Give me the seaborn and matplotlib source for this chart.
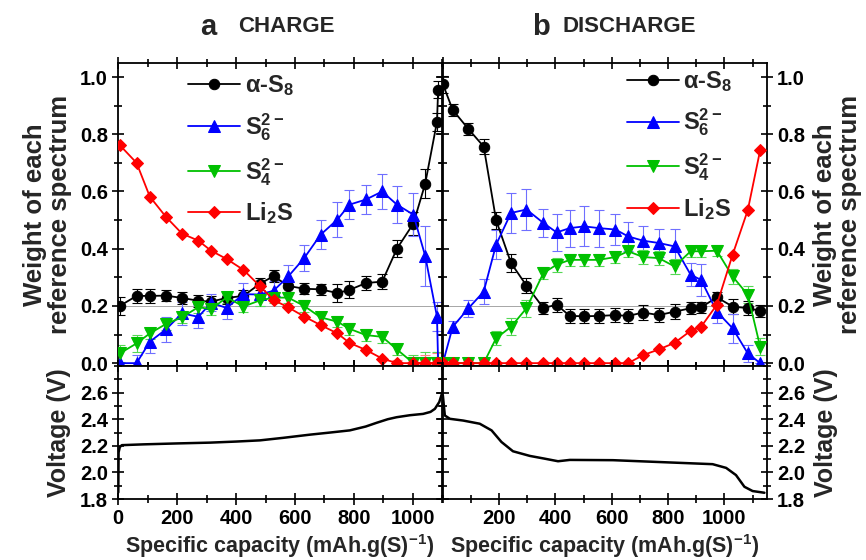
import matplotlib
matplotlib.use("Agg")
import matplotlib.pyplot as plt
import seaborn as sns
from matplotlib.ticker import MultipleLocator, FixedLocator

# ---- dados: carga ----
cap_carga = [5, 62, 107, 162, 216, 272, 315, 368, 425, 480, 527, 577, 631,
             687, 744, 785, 841, 896, 946, 1002, 1042, 1082, 1086]
s8_carga = [0.20, 0.235, 0.235, 0.236, 0.228, 0.218, 0.215, 0.228, 0.235, 0.277,
            0.304, 0.27, 0.26, 0.258, 0.245, 0.256, 0.28, 0.285, 0.40, 0.488,
            0.627, 0.843, 0.955]
s6_carga = [0.0, 0.0, 0.075, 0.118, 0.174, 0.162, 0.211, 0.193, 0.241, 0.24,
            0.253, 0.303, 0.367, 0.449, 0.502, 0.554, 0.572, 0.60, 0.554, 0.519,
            0.375, 0.163, 0.0]
s4_carga = [0.034, 0.069, 0.104, 0.137, 0.16, 0.196, 0.188, 0.23, 0.198, 0.219,
            0.229, 0.229, 0.2, 0.16, 0.145, 0.12, 0.098, 0.092, 0.048, 0.0,
            0.0, 0.0, 0.0]
li2s_carga = [0.762, 0.70, 0.582, 0.511, 0.453, 0.428, 0.393, 0.364, 0.326, 0.27,
              0.221, 0.195, 0.163, 0.133, 0.104, 0.071, 0.046, 0.016, 0.0, 0.0,
              0.0, 0.0, 0.0]
err_s8_carga = [0.03, 0.025, 0.025, 0.02, 0.02, 0.02, 0.02, 0.02, 0.02, 0.02,
                0.02, 0.02, 0.02, 0.02, 0.03, 0.03, 0.025, 0.025, 0.03, 0.04,
                0.05, 0.03, 0.03]
err_s6_carga = [0.05, 0.03, 0.04, 0.045, 0.04, 0.04, 0.03, 0.04, 0.04, 0.04,
                0.035, 0.04, 0.045, 0.05, 0.06, 0.05, 0.05, 0.06, 0.065, 0.075,
                0.105, 0.05, 0.0]
err_s4_carga = [0.03, 0.03, 0.02, 0.02, 0.02, 0.02, 0.02, 0.02, 0.02, 0.02,
                0.02, 0.02, 0.02, 0.02, 0.02, 0.02, 0.02, 0.02, 0.02, 0.03,
                0.04, 0.04, 0.04]
err_li2s_carga = [0.0] * 18 + [0.01, 0.02, 0.03, 0.035, 0.0]

# ---- dados: descarga ----
cap_desc = [0, 35, 91, 145, 189, 242, 297, 357, 404, 451, 502, 554, 613, 658,
            711, 767, 823, 880, 917, 973, 1029, 1083, 1127]
s8_desc = [0.975, 0.885, 0.818, 0.757, 0.50, 0.35, 0.271, 0.193, 0.204, 0.165,
           0.164, 0.165, 0.168, 0.165, 0.177, 0.168, 0.18, 0.192, 0.195, 0.23,
           0.198, 0.192, 0.183]
s6_desc = [0.0, 0.127, 0.192, 0.25, 0.414, 0.525, 0.537, 0.49, 0.457, 0.472,
           0.478, 0.472, 0.467, 0.443, 0.428, 0.42, 0.408, 0.309, 0.291, 0.18,
           0.122, 0.034, 0.0]
s4_desc = [0.0, 0.0, 0.0, 0.0, 0.087, 0.127, 0.192, 0.315, 0.344, 0.361, 0.361,
           0.361, 0.371, 0.391, 0.371, 0.367, 0.338, 0.391, 0.391, 0.393, 0.303,
           0.239, 0.057]
li2s_desc = [0.0] * 14 + [0.028, 0.048, 0.071, 0.113, 0.127, 0.204, 0.379,
                          0.535, 0.745]
err_s8_desc = [0.03, 0.02, 0.02, 0.025, 0.03, 0.03, 0.025, 0.02, 0.025, 0.025,
               0.025, 0.025, 0.025, 0.025, 0.025, 0.025, 0.025, 0.02, 0.02,
               0.02, 0.025, 0.025, 0.02]
err_s6_desc = [0.0, 0.02, 0.03, 0.045, 0.05, 0.07, 0.07, 0.05, 0.065, 0.065,
               0.07, 0.065, 0.055, 0.05, 0.05, 0.05, 0.06, 0.04, 0.055, 0.04,
               0.05, 0.03, 0.0]
err_s4_desc = [0.01, 0.01, 0.01, 0.01, 0.025, 0.03, 0.03, 0.02, 0.025, 0.02,
               0.02, 0.02, 0.02, 0.02, 0.025, 0.025, 0.025, 0.02, 0.02, 0.02,
               0.025, 0.03, 0.03]
err_li2s_desc = [0.0] * 23

# ---- curvas de tensão ----
cap_v_carga = [0, 1, 5, 12, 86, 200, 312, 400, 481, 560, 651, 720, 786, 840,
               877, 915, 945, 990, 1035, 1060, 1075, 1090, 1100]
v_carga = [1.85, 2.15, 2.19, 2.205, 2.211, 2.218, 2.224, 2.232, 2.241, 2.26,
           2.284, 2.30, 2.316, 2.345, 2.373, 2.40, 2.415, 2.43, 2.44, 2.455,
           2.478, 2.53, 2.6]
cap_v_desc = [0, 7, 25, 72, 131, 173, 208, 249, 309, 360, 409, 451, 604, 781,
              958, 1006, 1041, 1071, 1100, 1142]
v_desc = [2.578, 2.428, 2.403, 2.39, 2.366, 2.316, 2.229, 2.159, 2.124, 2.104,
          2.084, 2.094, 2.092, 2.077, 2.062, 2.034, 1.98, 1.892, 1.86, 1.847]

rotulos = [r"$\alpha$-S$_8$", r"S$_6^{2-}$", r"S$_4^{2-}$", r"Li$_2$S"]
cores = ["black", "#0000ff", "#00c000", "#ff0000"]
cores_erro = ["black", "#6f6fff", "#55d855", "#ff8080"]
marcadores = ["o", "^", "v", "D"]
tam_marc = [7.5, 8.5, 8.5, 6.5]

sns.set_theme(style="ticks")
plt.rcParams["font.family"] = ["Liberation Sans", "DejaVu Sans"]
plt.rcParams["font.weight"] = "bold"
plt.rcParams["mathtext.fontset"] = "custom"
plt.rcParams["mathtext.rm"] = "Liberation Sans:bold"
plt.rcParams["mathtext.bf"] = "Liberation Sans:bold"
plt.rcParams["mathtext.it"] = "Liberation Sans:bold"
plt.rcParams["mathtext.default"] = "rm"

fig = plt.figure(figsize=(8.66, 5.6), dpi=100)
ax_ct = fig.add_axes([0.1366, 0.3464, 0.3741, 0.5416])
ax_cv = fig.add_axes([0.1366, 0.1089, 0.3741, 0.2375])
ax_dt = fig.add_axes([0.5114, 0.3464, 0.3739, 0.5416])
ax_dv = fig.add_axes([0.5114, 0.1089, 0.3739, 0.2375])


def estilo(ax):
    for s in ax.spines.values():
        s.set_linewidth(1.3)
        s.set_color("black")
    ax.tick_params(which="both", direction="inout", top=True, bottom=True,
                   left=True, right=True, width=1.2, colors="black",
                   labelsize=14.5)
    ax.tick_params(which="major", length=8)
    ax.tick_params(which="minor", length=6)
    for t in ax.get_xticklabels() + ax.get_yticklabels():
        t.set_fontweight("bold")


def painel(ax, cap, series, erros, xmax, legenda_pos):
    ax.axhline(0.2, color="0.65", lw=0.7, zorder=0)
    for y, e, lab, c, ce, m, ms in zip(series, erros, rotulos, cores,
                                       cores_erro, marcadores, tam_marc):
        ax.errorbar(cap, y, yerr=e, fmt="none", ecolor=ce, elinewidth=0.8,
                    capsize=3.5, capthick=0.8, zorder=2)
        sns.lineplot(x=cap, y=y, ax=ax, color=c, marker=m, markersize=ms,
                     markeredgecolor=c, linewidth=1.3, sort=False,
                     label=lab, zorder=3)
    ax.set_xlim(0, xmax)
    ax.set_ylim(-0.01, 1.05)
    ax.xaxis.set_major_locator(MultipleLocator(200))
    ax.xaxis.set_minor_locator(MultipleLocator(100))
    ax.yaxis.set_major_locator(FixedLocator([0, 0.2, 0.4, 0.6, 0.8, 1.0]))
    ax.yaxis.set_minor_locator(MultipleLocator(0.1))
    ax.set_yticklabels(["0.0", "0.2", "0.4", "0.6", "0.8", "1.0"])
    ax.tick_params(labelbottom=False)
    ax.set_xlabel("")
    leg = ax.legend(loc="upper left", bbox_to_anchor=legenda_pos, frameon=False,
                    fontsize=17, handlelength=2.2, handletextpad=0.2,
                    labelspacing=0.55, borderpad=0, borderaxespad=0)
    for t in leg.get_texts():
        t.set_fontweight("bold")


def tensao(ax, cap, v, xmax, ticks):
    sns.lineplot(x=cap, y=v, ax=ax, color="black", linewidth=1.8, sort=False)
    ax.set_xlim(0, xmax)
    ax.set_ylim(1.8, 2.8)
    ax.xaxis.set_major_locator(FixedLocator(ticks))
    ax.xaxis.set_minor_locator(MultipleLocator(100))
    ax.set_xticklabels([str(t) for t in ticks])
    ax.yaxis.set_major_locator(FixedLocator([1.8, 2.0, 2.2, 2.4, 2.6]))
    ax.yaxis.set_minor_locator(MultipleLocator(0.1))
    ax.set_yticklabels(["1.8", "2.0", "2.2", "2.4", "2.6"])
    ax.set_xlabel("")


painel(ax_ct, cap_carga, [s8_carga, s6_carga, s4_carga, li2s_carga],
       [err_s8_carga, err_s6_carga, err_s4_carga, err_li2s_carga], 1100,
       (0.215, 0.965))
painel(ax_dt, cap_desc, [s8_desc, s6_desc, s4_desc, li2s_desc],
       [err_s8_desc, err_s6_desc, err_s4_desc, err_li2s_desc], 1150,
       (0.568, 0.98))
tensao(ax_cv, cap_v_carga, v_carga, 1100, [0, 200, 400, 600, 800, 1000])
tensao(ax_dv, cap_v_desc, v_desc, 1150, [200, 400, 600, 800, 1000])

# rótulos do eixo x como texto da figura, para não cortar na borda
rotulo_x = "Specific capacity (mAh.g(S)$^{-1}$)"
fig.text(280 / 866, 1 - 546 / 560, rotulo_x, fontsize=15.5, fontweight="bold",
         ha="center", va="center")
fig.text(605 / 866, 1 - 546 / 560, rotulo_x, fontsize=15.5, fontweight="bold",
         ha="center", va="center")

ax_ct.set_ylabel("Weight of each\nreference spectrum", fontsize=18.5,
                 fontweight="bold", labelpad=6, linespacing=1.05)
ax_cv.set_ylabel("Voltage (V)", fontsize=18, fontweight="bold", labelpad=6)
for ax in (ax_dt, ax_dv):
    ax.yaxis.tick_right()
    ax.tick_params(which="both", left=True, right=True, labelleft=False,
                   labelright=True)
    ax.yaxis.set_label_position("right")
ax_dt.set_ylabel("Weight of each\nreference spectrum", fontsize=18.5,
                 fontweight="bold", labelpad=6, rotation=90, linespacing=1.05)
ax_dv.set_ylabel("Voltage (V)", fontsize=18, fontweight="bold", labelpad=6,
                 rotation=90)

for ax in (ax_ct, ax_cv, ax_dt, ax_dv):
    estilo(ax)

fig.text(208 / 866, 1 - 27 / 560, "a", fontsize=21, fontweight="bold",
         ha="center", va="center")
fig.text(238 / 866, 1 - 27 / 560, "CHARGE", fontsize=16, fontweight="bold",
         ha="left", va="center")
fig.text(541 / 866, 1 - 27 / 560, "b", fontsize=21, fontweight="bold",
         ha="center", va="center")
fig.text(563 / 866, 1 - 27 / 560, "DISCHARGE", fontsize=16, fontweight="bold",
         ha="left", va="center")

fig.savefig("out.png", dpi=100)
